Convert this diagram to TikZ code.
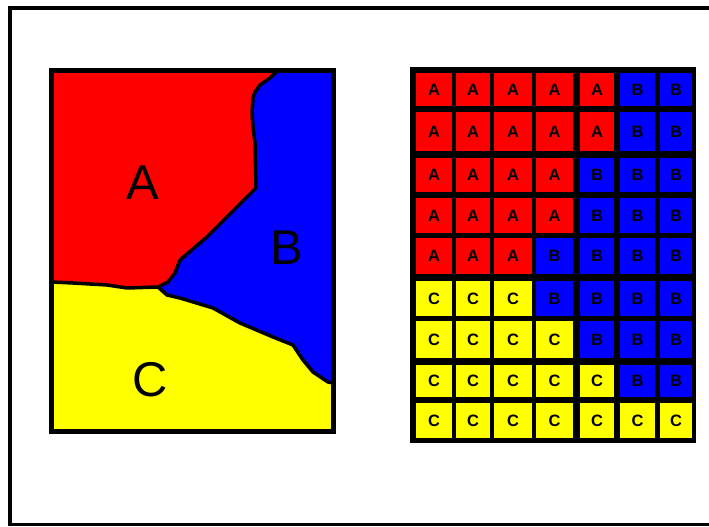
\documentclass[tikz,border=0pt]{standalone}
\usepackage{fontspec}
\setmainfont{Liberation Sans}
\definecolor{rA}{RGB}{255,0,0}
\definecolor{bB}{RGB}{0,0,255}
\definecolor{yC}{RGB}{255,255,0}
\colorlet{cellA}{rA}
\colorlet{cellB}{bB}
\colorlet{cellC}{yC}
\begin{document}
\begin{tikzpicture}[x=1bp,y=-1bp,
  big/.style={font=\fontsize{49}{49}\selectfont, inner sep=0pt},
  small/.style={font=\fontsize{16.5}{16.5}\selectfont\bfseries, inner sep=0pt},
  bound/.style={line width=3.5bp, line join=round, line cap=round}]
\useasboundingbox (0,0) rectangle (709,527);
\fill[white] (0,0) rectangle (709,527);
% outer frame (open to the right)
\draw[line width=3.5bp] (709,8) -- (10,8) -- (10,524.5) -- (709,524.5);

% ---------- left panel ----------
\coordinate (tl) at (51.5,70.5);
\coordinate (tr) at (333.5,70.5);
\coordinate (bl) at (51.5,431.5);
\coordinate (br) at (333.5,431.5);
\coordinate (t) at (278,70.5);
\coordinate (l) at (51.5,282);
\coordinate (r) at (333.5,383);
\coordinate (j) at (158,287);

\fill[yC] (tl) rectangle (br);
\fill[rA] (tl) -- (t) -- (270,78) -- (260,85) -- (255,92) -- (253,98) -- (252,113)
  -- (253,127) -- (255,143) -- (256,188) -- (247,197) -- (227,217) -- (207,237)
  -- (180,260) -- (175,273) -- (168,282) -- (j) -- (127,288) -- (107,285)
  -- (73,283) -- (l) -- cycle;
\fill[bB] (t) -- (tr) -- (r) -- (328,382) -- (313,372) -- (303,360) -- (293,345)
  -- (273,337) -- (240,323) -- (213,308) -- (180,298) -- (167,295) -- (j)
  -- (168,282) -- (175,273) -- (180,260) -- (207,237) -- (227,217) -- (247,197)
  -- (256,188) -- (255,143) -- (253,127) -- (252,113) -- (253,98) -- (255,92)
  -- (260,85) -- (270,78) -- cycle;
% boundaries
\draw[bound] (t) -- (270,78) -- (260,85) -- (255,92) -- (253,98) -- (252,113)
  -- (253,127) -- (255,143) -- (256,188) -- (247,197) -- (227,217) -- (207,237)
  -- (180,260) -- (175,273) -- (168,282) -- (j);
\draw[bound] (l) -- (73,283) -- (107,285) -- (127,288) -- (j);
\draw[bound] (j) -- (167,295) -- (180,298) -- (213,308) -- (240,323) -- (273,337)
  -- (293,345) -- (303,360) -- (313,372) -- (328,382) -- (r);
\draw[line width=5bp] (tl) rectangle (br);

\node[big] (labA) at (143,182.5) {A};
\node[big] (labB) at (287,247.5) {B};
\node[big] (labC) at (150,380) {C};

% ---------- right grid ----------
\fill[black] (410,67.5) rectangle (696,443);
\foreach \ya/\yb/\L/\k [count=\r] in
  {73/106/A/5,112/151/A/5,158/192/A/4,198/233/A/4,238/274/A/3,
   281/316/C/3,321/358/C/4,365/397/C/5,403/438/C/7}{
  \foreach \xa/\xb [count=\c] in
    {416/452,456/490,494/532,536/573,580/614,620/655,660/692}{
    \edef\lt{\ifnum\c>\k B\else\L\fi}
    \fill[cell\lt] (\xa,\ya) rectangle (\xb,\yb);
    \node[small] (cell-\r-\c) at ({(\xa+\xb)/2},{(\ya+\yb)/2}) {\lt};
  }
}
\end{tikzpicture}
\end{document}
